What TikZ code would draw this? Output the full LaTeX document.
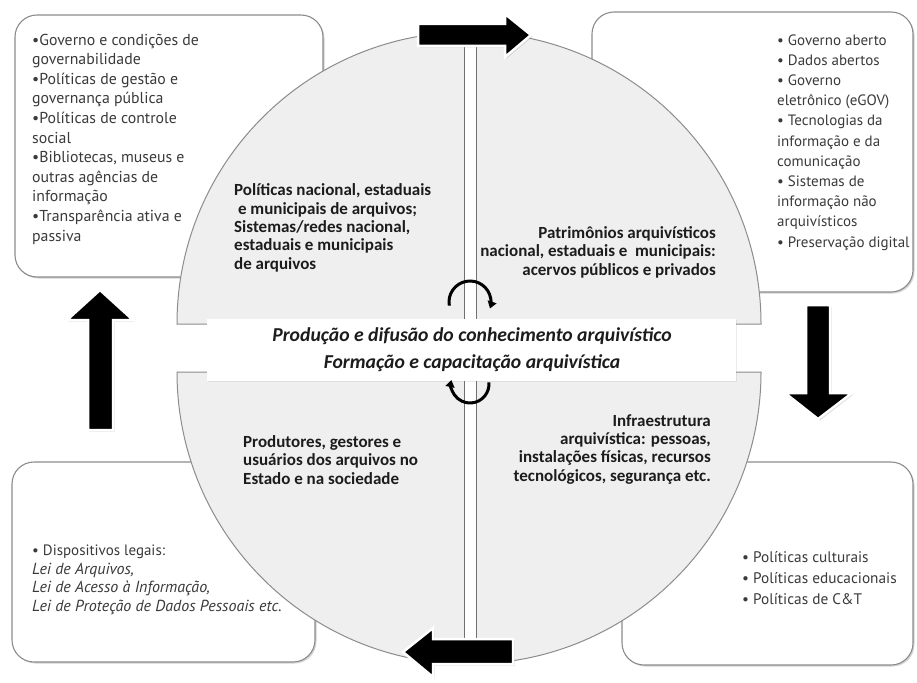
\documentclass[tikz,border=0pt]{standalone}
\usepackage{fontspec}
\setmainfont{Carlito}
\newfontfamily\boxfont{PT Sans}
\usetikzlibrary{shadows,arrows.meta}
\definecolor{circfill}{HTML}{EFEFEF}
\definecolor{edgegray}{HTML}{8C8C8C}
\definecolor{boxtext}{HTML}{3A3A3A}
\definecolor{darktext}{HTML}{1C1C1C}
\begin{document}
\begin{tikzpicture}[x=1pt,y=-1pt,
  infobox/.style={draw=edgegray, line width=1.1pt, fill=white, rounded corners=22pt,
    drop shadow={shadow xshift=1.5pt,shadow yshift=-1.5pt,opacity=0.35}},
  boxtxt/.style={inner sep=0pt, align=left, text=boxtext, anchor=base west},
  circtxt/.style={inner sep=0pt, text=darktext, font=\bfseries\fontsize{17}{18.3}\selectfont},
  midtxt/.style={inner sep=0pt, align=center, text=darktext, font=\bfseries\itshape\fontsize{19.7}{27}\selectfont},
  circpart/.style={fill=circfill, draw=edgegray, line width=1pt},
  divider/.style={draw=edgegray!80!black, line width=1pt},
  bigarrow/.style={fill=black, draw=white, line width=2.5pt, line join=miter,
    drop shadow={shadow xshift=1.5pt,shadow yshift=-1.5pt,opacity=0.3}},
  cyclearrow/.style={line width=3pt, black, -{Triangle[length=7pt,width=9pt]}}
]
\useasboundingbox (0,0) rectangle (917,682);

% info boxes
\node[infobox, minimum width=308, minimum height=262] (boxTL) at (169,146) {};
\node[infobox, minimum width=321, minimum height=280] (boxTR) at (752.5,152) {};
\node[infobox, minimum width=303, minimum height=200] (boxBL) at (163.5,562) {};
\node[infobox, minimum width=291, minimum height=203] (boxBR) at (767.5,563.5) {};

% circle halves
\path[circpart] (177,324) arc[start angle=180, end angle=360, radius=292] -- cycle;
\path[circpart] (177,372) arc[start angle=180, end angle=0, radius=292] -- cycle;

% vertical double divider
\fill[white] (464,33) rectangle (476,322);
\draw[divider] (464,33) -- (464,322);
\draw[divider] (476,33) -- (476,322);
\fill[white] (464,372) rectangle (476,663);
\draw[divider] (464,372) -- (464,663);
\draw[divider] (476,372) -- (476,663);

% central band
\node[fill=white, minimum width=529, minimum height=62, inner sep=0pt,
  drop shadow={shadow xshift=1pt,shadow yshift=-1pt,opacity=0.15}] (band) at (471.5,350) {};
\node[midtxt] (midtext) at (472,350) {Produção e difusão do conhecimento arquivístico\\Formação e capacitação arquivística};

% cycle arrows
\coordinate (cu) at (470,302);
\coordinate (cl) at (470,384);
\draw[cyclearrow] ([shift={(170:21)}]cu) arc[start angle=170, end angle=378, radius=21];
\draw[cyclearrow] ([shift={(-5:19)}]cl) arc[start angle=-5, end angle=192, radius=19];

% circle texts (anchor = baseline of the last line)
\node[circtxt, align=left, anchor=base west] (tUL) at (234,269)
  {Políticas nacional, estaduais\\\ e municipais de arquivos;\\Sistemas/redes nacional,\\estaduais e municipais\\de arquivos};
\node[circtxt, align=right, anchor=base east] (tUR) at (716,275)
  {Patrimônios arquivísticos\\nacional, estaduais e\ \ municipais:\\acervos públicos e privados};
\node[circtxt, align=left, anchor=base west] (tLL) at (243,484)
  {Produtores, gestores e\\usuários dos arquivos no\\Estado e na sociedade};
\node[circtxt, align=right, anchor=base east] (tLR) at (711,481)
  {Infraestrutura\\arquivística: pessoas,\\instalações físicas, recursos\\tecnológicos, segurança etc.};

% box texts (anchor = baseline of the last line)
\node[boxtxt, font=\boxfont\fontsize{15.8}{19.6}\selectfont] (xTL) at (32,241)
  {•Governo e condições de\\governabilidade\\•Políticas de gestão e\\governança pública\\•Políticas de controle\\social\\•Bibliotecas, museus e\\outras agências de\\informação\\•Transparência ativa e\\passiva};
\node[boxtxt, font=\boxfont\fontsize{15}{20.2}\selectfont] (xTR) at (777,247)
  {• Governo aberto\\• Dados abertos\\• Governo\\eletrônico (eGOV)\\• Tecnologias da\\informação e da\\comunicação\\• Sistemas de\\informação não\\arquivísticos\\• Preservação digital};
\node[boxtxt, font=\boxfont\fontsize{15}{18.5}\selectfont] (xBL) at (32,611)
  {• Dispositivos legais:\\{\fontsize{16}{18.5}\selectfont\itshape Lei de Arquivos,}\\{\fontsize{16}{18.5}\selectfont\itshape Lei de Acesso à Informação,}\\{\fontsize{16}{18.5}\selectfont\itshape Lei de Proteção de Dados Pessoais etc.}};
\node[boxtxt, font=\boxfont\fontsize{15.3}{21}\selectfont] (xBR) at (742,604)
  {• Políticas culturais\\• Políticas educacionais\\• Políticas de C\&T};

% big cycle arrows
\path[bigarrow] (418,24) -- (505,24) -- (505,14) -- (531,35) -- (505,57) -- (505,46) -- (418,46) -- cycle;
\path[bigarrow] (806,305) -- (830,305) -- (830,393) -- (852,393) -- (818,419) -- (785,393) -- (806,393) -- cycle;
\path[bigarrow] (513,639) -- (433,639) -- (433,628) -- (403,652) -- (433,677) -- (433,664) -- (513,664) -- cycle;
\path[bigarrow] (88,430) -- (88,320) -- (67,320) -- (100,290) -- (133,320) -- (113,320) -- (113,430) -- cycle;
\end{tikzpicture}
\end{document}
